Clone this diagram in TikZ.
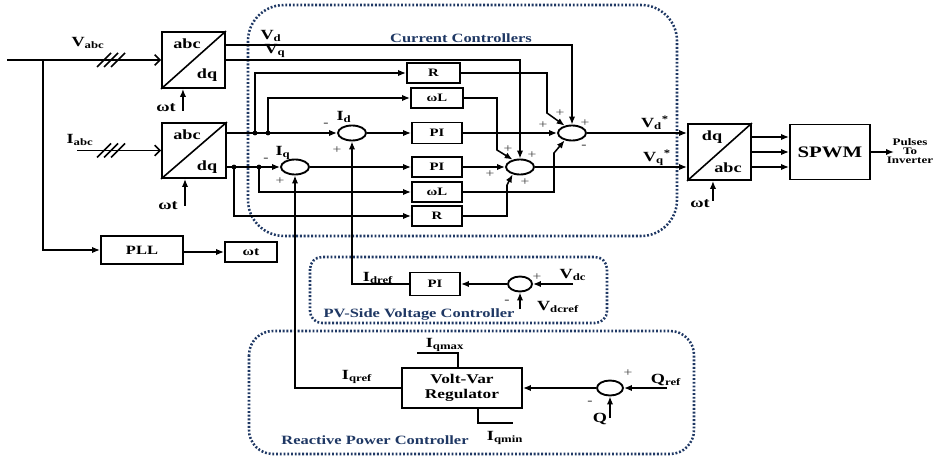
\documentclass[tikz,border=0pt]{standalone}
\usepackage{fontspec}
\setmainfont{Liberation Serif}[FakeStretch=1.3]
\usetikzlibrary{arrows.meta,shapes.geometric}
\definecolor{regblue}{RGB}{31,56,100}
\newcommand{\fsz}[1]{\fontsize{#1}{#1}\selectfont}
\begin{document}
\begin{tikzpicture}[x={(0.75pt,0pt)},y={(0pt,-0.75pt)},
  blk/.style={draw, line width=1.4pt, inner sep=0pt, font=\bfseries\fsz{8.5}},
  sumc/.style={draw, ellipse, line width=1.4pt, minimum width=21pt, minimum height=11.25pt, inner sep=0pt},
  conn/.style={line width=1.15pt},
  arr/.style={conn, -{Latex[length=6pt,width=4.8pt]}},
  oarr/.style={conn, -{Straight Barb[length=4pt,width=8pt]}},
  txt/.style={font=\bfseries\fsz{10.5}, inner sep=0pt},
  sgn/.style={font=\fsz{9}, inner sep=0pt, text=black!75},
  region/.style={draw=regblue, line width=1.9pt, dash pattern=on 1.4pt off 1.4pt},
  rtxt/.style={text=regblue, font=\bfseries\fsz{9.5}, inner sep=0pt}]
\useasboundingbox (0,0) rectangle (934,456);

% ---------- regions ----------
\draw[region, rounded corners=27pt] (248,5) rectangle (677,236);
\draw[region, rounded corners=9pt] (310,257) rectangle (607,323);
\draw[region, rounded corners=18pt] (249,331) rectangle (694,454);
\node[rtxt] at (461,38) {Current Controllers};
\node[rtxt] at (419,315) {PV-Side Voltage Controller};
\node[rtxt] at (375,440) {Reactive Power Controller};

% ---------- transform blocks ----------
\node[blk, minimum width=47.25pt, minimum height=42pt] (T1) at (193.5,60) {};
\draw[line width=1.2pt] (T1.south west) -- (T1.north east);
\node[txt] at (187,44) {abc};
\node[txt] at (207,75) {dq};

\node[blk, minimum width=48pt, minimum height=41.25pt] (T2) at (194,150.5) {};
\draw[line width=1.2pt] (T2.south west) -- (T2.north east);
\node[txt] at (187,135) {abc};
\node[txt] at (207,167) {dq};

\node[blk, minimum width=47.25pt, minimum height=42pt] (T3) at (719.5,152) {};
\draw[line width=1.2pt] (T3.south west) -- (T3.north east);
\node[txt] at (712,137) {dq};
\node[txt] at (728,168) {abc};

\node[blk, minimum width=60pt, minimum height=41.25pt, font=\bfseries\fsz{12}] (SP) at (830,152) {SPWM};
\node[blk, minimum width=61.5pt, minimum height=21pt, font=\bfseries\fsz{9.5}] (PLL) at (142,250) {PLL};
\node[blk, minimum width=39pt, minimum height=15pt, font=\bfseries\fsz{9}] (wt) at (251,252) {ωt};

% ---------- controller blocks ----------
\node[blk, minimum width=39.75pt, minimum height=15pt] (Rd) at (433.5,73) {R};
\node[blk, minimum width=39pt, minimum height=15pt] (wLd) at (437,98) {ωL};
\node[blk, minimum width=37.5pt, minimum height=15.75pt] (PId) at (437,133) {PI};
\node[blk, minimum width=37.5pt, minimum height=15pt] (PIq) at (437,167) {PI};
\node[blk, minimum width=37.5pt, minimum height=15pt] (wLq) at (437,192) {ωL};
\node[blk, minimum width=37.5pt, minimum height=15pt] (Rq) at (437,216) {R};
\node[blk, minimum width=37.5pt, minimum height=17.25pt] (PIv) at (435,284) {PI};
\node[blk, minimum width=90pt, minimum height=30pt, align=center, font=\bfseries\fsz{10}] (VV) at (462,388) {Volt-Var\\[1pt]Regulator};

\node[sumc] (Id) at (352,133) {};
\node[sumc] (Iq) at (295,167) {};
\node[sumc] (sd) at (572,133) {};
\node[sumc] (sq) at (520,167) {};
\node[sumc, minimum width=18pt] (sv) at (520,284) {};
\node[sumc, minimum width=19.5pt] (sQ) at (610,388) {};

% ---------- inputs ----------
\coordinate (vin) at (7,60);
\coordinate (jv) at (43,60);
\coordinate (iin) at (77,150.5);
\draw[oarr] (vin) -- (T1.west);
\draw[oarr] (iin) -- (T2.west);
\foreach \c in {104,111,118}{
  \draw[conn] (\c-7,67) -- (\c+7,53);
  \draw[conn] (\c-7,157.5) -- (\c+7,143.5);
}
\node[txt] at (88,43) {V\textsubscript{abc}};
\node[txt] at (80,140) {I\textsubscript{abc}};
\draw[arr] (jv) |- (PLL.west);
\draw[arr] (PLL.east |- wt.west) -- (wt.west);

% omega t arrows
\draw[arr] ([xshift=-7.9pt,yshift=-16.5pt]T1.south) -- ([xshift=-7.9pt]T1.south);
\draw[arr] ([xshift=-6.75pt,yshift=-20pt]T2.south) -- ([xshift=-6.75pt]T2.south);
\draw[arr] ([xshift=-4.9pt,yshift=-15pt]T3.south) -- ([xshift=-4.9pt]T3.south);
\node[txt] at (166,108) {ωt};
\node[txt] at (168,206) {ωt};
\node[txt] at (700,204) {ωt};

% ---------- Vd, Vq feedforward ----------
\draw[arr] ([yshift=11.25pt]T1.east) -| (sd.north);
\draw[arr] (T1.east) -| (sq.north);
\node[txt] at (271,36) {V\textsubscript{d}};
\node[txt] at (275,51) {V\textsubscript{q}};

% ---------- d-axis ----------
\coordinate (j1) at (255,133);
\coordinate (j2) at (268,133);
\draw[arr] (T2.east |- Id.west) -- (Id.west);
\fill (j1) circle (1.8pt);
\fill (j2) circle (1.8pt);
\draw[arr] (j1) |- (Rd.west);
\draw[arr] (j2) |- (wLd.west);
\draw[arr] (Id.east) -- (PId.west);
\draw[arr] (PId.east) -- (sd.west);
\draw[arr] (Rd.east) -| (547,113) -- (sd.135);
\draw[arr] (wLd.east) -| (497,150) -- (sq.135);

% ---------- q-axis ----------
\coordinate (j3) at (234,167);
\coordinate (j4) at (259,167);
\draw[arr] (T2.east |- Iq.west) -- (Iq.west);
\fill (j3) circle (1.8pt);
\fill (j4) circle (1.8pt);
\draw[arr] (j4) |- (wLq.west);
\draw[arr] (j3) |- (Rq.west);
\draw[arr] (Iq.east) -- (PIq.west);
\draw[arr] (PIq.east) -- (sq.west);
\draw[arr] (wLq.east) -| (554,153) -- (sd.225);
\draw[arr] (Rq.east) -| (507,185) -- (sq.225);

\node[txt] at (344,117) {I\textsubscript{d}};
\node[txt] at (283,153) {I\textsubscript{q}};

% signs
\node[sgn] at (326,125) {\bfseries -};
\node[sgn] at (337,150) {+};
\node[sgn] at (266,160) {\bfseries -};
\node[sgn] at (280,181) {+};
\node[sgn] at (543,125) {+};
\node[sgn] at (560,113) {+};
\node[sgn] at (585,123) {+};
\node[sgn] at (584,147) {\bfseries -};
\node[sgn] at (508,149) {+};
\node[sgn] at (532,155) {+};
\node[sgn] at (490,174) {+};
\node[sgn] at (525,182) {+};

% ---------- outputs ----------
\draw[arr] (sd.east) -- (T3.west |- sd.east);
\draw[arr] (sq.east) -- (T3.west |- sq.east);
\node[txt] at (655,123) {V\textsubscript{d}\textsuperscript{*}};
\node[txt] at (657,158) {V\textsubscript{q}\textsuperscript{*}};
\draw[arr] ([yshift=11.25pt]T3.east) -- ([yshift=11.25pt]SP.west);
\draw[arr] (T3.east) -- (SP.west);
\draw[arr] ([yshift=-11.25pt]T3.east) -- ([yshift=-11.25pt]SP.west);
\coordinate (pout) at (894,152);
\draw[arr] (SP.east) -- (pout);
\node[font=\bfseries\fsz{7.5}, align=center, inner sep=0pt] at (910,151) {Pulses\\[-0.5pt]To\\[-0.5pt]Inverter};

% ---------- PV-side voltage controller ----------
\coordinate (vdc) at (573,284);
\coordinate (vdcr) at (520,309);
\draw[arr] (vdc) -- (sv.east);
\draw[arr] (vdcr) -- (sv.south);
\draw[arr] (sv.west) -- (PIv.east);
\draw[arr] (PIv.west) -| (Id.south);
\node[txt] at (378,278) {I\textsubscript{dref}};
\node[txt] at (573,275) {V\textsubscript{dc}};
\node[txt] at (558,307) {V\textsubscript{dcref}};
\node[sgn] at (537,277) {+};
\node[sgn] at (507,302) {\bfseries -};

% ---------- reactive power controller ----------
\coordinate (qref) at (667,388);
\coordinate (qin) at (610,418);
\coordinate (qmx) at (417,353);
\coordinate (qmn) at (513,423);
\draw[arr] (qref) -- (sQ.east);
\draw[arr] (qin) -- (sQ.south);
\draw[arr] (sQ.west) -- (VV.east);
\draw[arr] (VV.west) -| (Iq.south);
\draw[conn] (qmx) -| ([xshift=-3pt]VV.north);
\draw[conn] ([xshift=12pt]VV.south) |- (qmn);
\node[txt] at (445,345) {I\textsubscript{qmax}};
\node[txt] at (357,377) {I\textsubscript{qref}};
\node[txt] at (505,438) {I\textsubscript{qmin}};
\node[txt] at (666,380) {Q\textsubscript{ref}};
\node[txt] at (600,419) {Q};
\node[sgn] at (628,373) {+};
\node[sgn] at (590,403) {\bfseries -};
\end{tikzpicture}
\end{document}
